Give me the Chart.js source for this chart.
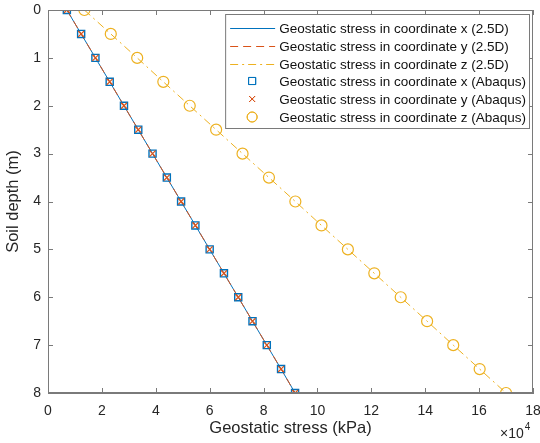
<!DOCTYPE html>
<html>
<head>
<meta charset="utf-8">
<script src="https://cdn.jsdelivr.net/npm/chart.js@4.4.1/dist/chart.umd.min.js"></script>
<style>
  html, body { margin: 0; padding: 0; background: #fff; }
  #wrap { width: 540px; height: 443px; }
</style>
</head>
<body>
<div id="wrap"><canvas id="stressChart" width="540" height="443"></canvas></div>
<script>
// 深さ (m)
const depth = [0, 0.5, 1, 1.5, 2, 2.5, 3, 3.5, 4, 4.5, 5, 5.5, 6, 6.5, 7, 7.5, 8];
// 応力 (kPa) - 図から読み取り
const stressX = [7000, 12300, 17600, 22900, 28200, 33500, 38800, 44100, 49400, 54700, 60000, 65300, 70600, 75900, 81200, 86500, 91700];
const stressY = [7000, 12300, 17600, 22900, 28200, 33500, 38800, 44100, 49400, 54700, 60000, 65300, 70600, 75900, 81200, 86500, 91700];
const stressZ = [13500, 23300, 33100, 42800, 52600, 62400, 72200, 82000, 91800, 101500, 111300, 121100, 130900, 140700, 150400, 160200, 170000];
const xTicks = [0, 2, 4, 6, 8, 10, 12, 14, 16, 18];
const yTicks = [0, 1, 2, 3, 4, 5, 6, 7, 8];

const BLUE = '#0072BD', ORANGE = '#D95319', YELLOW = '#EDB120';
const AXIS = '#7a7a7a';
const FONT = '"Liberation Sans", Arial, sans-serif';

const pts = (xs) => xs.map((v, i) => ({ x: v, y: depth[i] }));

const legendItems = [
    { text: 'Geostatic stress in coordinate x (2.5D)', type: 'line', color: BLUE, dash: [] },
    { text: 'Geostatic stress in coordinate y (2.5D)', type: 'line', color: ORANGE, dash: [8, 5] },
    { text: 'Geostatic stress in coordinate z (2.5D)', type: 'line', color: YELLOW, dash: [8, 4, 2, 4] },
    { text: 'Geostatic stress in coordinate x (Abaqus)', type: 'rect', color: BLUE },
    { text: 'Geostatic stress in coordinate y (Abaqus)', type: 'crossRot', color: ORANGE },
    { text: 'Geostatic stress in coordinate z (Abaqus)', type: 'circle', color: YELLOW }
];

// 枠線と内向きの目盛り、×10^4、凡例
const boxPlugin = {
    id: 'boxTicks',
    afterDraw(chart) {
        const { ctx, chartArea: ca, scales } = chart;
        ctx.save();
        ctx.strokeStyle = AXIS;
        ctx.lineWidth = 1;
        ctx.strokeRect(ca.left + 0.5, ca.top + 0.5, ca.right - ca.left - 1, ca.bottom - ca.top - 1);
        const tl = 5;
        ctx.beginPath();
        xTicks.forEach(t => {
            const px = Math.round(scales.x.getPixelForValue(t * 10000)) + 0.5;
            ctx.moveTo(px, ca.bottom); ctx.lineTo(px, ca.bottom - tl);
            ctx.moveTo(px, ca.top); ctx.lineTo(px, ca.top + tl);
        });
        yTicks.forEach(t => {
            const py = Math.round(scales.y.getPixelForValue(t)) + 0.5;
            ctx.moveTo(ca.left, py); ctx.lineTo(ca.left + tl, py);
            ctx.moveTo(ca.right, py); ctx.lineTo(ca.right - tl, py);
        });
        ctx.stroke();

        // ×10^4
        ctx.fillStyle = '#262626';
        ctx.textBaseline = 'alphabetic';
        ctx.textAlign = 'left';
        ctx.font = '14px ' + FONT;
        const ex = ca.right - 33;
        const ey = chart.height - 5;
        ctx.fillText('\u00d710', ex, ey);
        const w = ctx.measureText('\u00d710').width;
        ctx.font = '10px ' + FONT;
        ctx.fillText('4', ex + w + 1, ey - 8);

        // 凡例
        ctx.font = '13.5px ' + FONT;
        const maxW = Math.max(...legendItems.map(it => ctx.measureText(it.text).width));
        const right = ca.right - 4;
        const top = ca.top + 4;
        const rowH = 17.8;
        const textX = right - maxW - 3;
        const left = textX - 54;
        const bottom = top + 114;
        ctx.fillStyle = '#fff';
        ctx.fillRect(left, top, right - left, bottom - top);
        ctx.strokeStyle = AXIS;
        ctx.strokeRect(left + 0.5, top + 0.5, right - left, bottom - top);
        legendItems.forEach((it, i) => {
            const cy = Math.round(top + 14 + i * rowH);
            ctx.strokeStyle = it.color;
            ctx.lineWidth = 1;
            if (it.type === 'line') {
                ctx.setLineDash(it.dash);
                ctx.beginPath();
                ctx.moveTo(textX - 49, cy + 0.5);
                ctx.lineTo(textX - 4, cy + 0.5);
                ctx.stroke();
                ctx.setLineDash([]);
            } else {
                const r = it.type === 'rect' ? 5 : (it.type === 'circle' ? 5 : 4.2);
                ctx.fillStyle = 'rgba(0,0,0,0)';
                Chart.helpers.drawPoint(ctx, { pointStyle: it.type, radius: r, rotation: 0, borderWidth: 1.2 }, textX - 27, cy);
                ctx.stroke();
            }
            ctx.fillStyle = '#111';
            ctx.textBaseline = 'middle';
            ctx.fillText(it.text, textX, cy + 1);
        });
        ctx.restore();
    }
};

new Chart(document.getElementById('stressChart').getContext('2d'), {
    type: 'scatter',
    data: {
        datasets: [
            { label: 'x (2.5D)', data: pts(stressX), showLine: true, borderColor: BLUE, borderWidth: 1, pointRadius: 0, order: 5 },
            { label: 'y (2.5D)', data: pts(stressY), showLine: true, borderColor: ORANGE, borderWidth: 1, borderDash: [8, 5], pointRadius: 0, order: 4 },
            { label: 'z (2.5D)', data: pts(stressZ), showLine: true, borderColor: YELLOW, borderWidth: 1, borderDash: [8, 4, 2, 4], pointRadius: 0, order: 3 },
            { label: 'x (Abaqus)', data: pts(stressX), pointStyle: 'rect', pointRadius: 5, pointBorderWidth: 1.4, borderColor: BLUE, backgroundColor: 'rgba(0,0,0,0)', order: 1 },
            { label: 'y (Abaqus)', data: pts(stressY), pointStyle: 'crossRot', pointRadius: 4.2, pointBorderWidth: 1.2, borderColor: ORANGE, backgroundColor: ORANGE, order: 0 },
            { label: 'z (Abaqus)', data: pts(stressZ), pointStyle: 'circle', pointRadius: 5.5, pointBorderWidth: 1.2, borderColor: YELLOW, backgroundColor: 'rgba(0,0,0,0)', order: 2 }
        ]
    },
    options: {
        responsive: false,
        animation: false,
        layout: { padding: { top: 10, right: 7, left: 0, bottom: 0 } },
        plugins: { legend: { display: false }, tooltip: { enabled: false } },
        scales: {
            x: {
                type: 'linear', min: 0, max: 180000,
                afterBuildTicks(scale) { scale.ticks = xTicks.map(v => ({ value: v * 10000 })); },
                afterFit(scale) { scale.height = 50; scale.paddingLeft = 0; scale.paddingRight = 0; },
                ticks: { color: '#262626', font: { family: FONT, size: 14 }, padding: 10, maxRotation: 0,
                         callback: v => String(v / 10000) },
                grid: { drawOnChartArea: false, drawTicks: false },
                border: { color: AXIS },
                title: { display: true, text: 'Geostatic stress (kPa)', color: '#262626',
                         font: { family: FONT, size: 16.5 }, padding: { top: 0, bottom: 5 } }
            },
            y: {
                type: 'linear', min: 0, max: 8, reverse: true,
                afterBuildTicks(scale) { scale.ticks = yTicks.map(v => ({ value: v })); },
                afterFit(scale) { scale.width = 48; scale.paddingTop = 0; scale.paddingBottom = 0; },
                ticks: { color: '#262626', font: { family: FONT, size: 14 }, padding: 7 },
                grid: { drawOnChartArea: false, drawTicks: false },
                border: { color: AXIS },
                title: { display: true, text: 'Soil depth (m)', color: '#262626',
                         font: { family: FONT, size: 16.5 }, padding: { top: 4, bottom: 0 } }
            }
        }
    },
    plugins: [boxPlugin]
});
</script>
</body>
</html>
